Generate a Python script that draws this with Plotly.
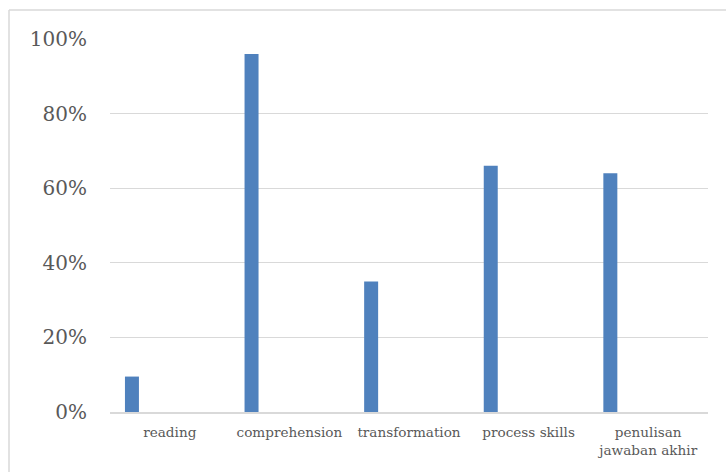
import plotly.graph_objects as go

categories = ["reading", "comprehension", "transformation", "process skills", "penulisan<br>jawaban akhir"]
values = [0.095, 0.96, 0.35, 0.66, 0.64]
y_ticks = [0, 0.2, 0.4, 0.6, 0.8, 1.0]
y_tick_labels = ["0%", "20%", "40%", "60%", "80%", "100%"]

fig = go.Figure()
fig.add_trace(go.Bar(
    x=categories, y=values,
    marker=dict(color="#4f81bd", line=dict(width=0)),
    width=0.117, offset=-0.375,
))

L, R, T, B = 110, 18, 39, 60
W, H = 726, 472
pw, ph = W - L - R, H - T - B

def px_to_paper_x(px):
    return (px - L) / pw

def px_to_paper_y(py):
    return (H - B - py) / ph

fig.update_layout(
    width=W, height=H,
    margin=dict(l=L, r=R, t=T, b=B),
    paper_bgcolor="white", plot_bgcolor="white",
    showlegend=False,
    font=dict(family="DejaVu Serif", color="#595959"),
    xaxis=dict(
        type="category", range=[-0.5, 4.5],
        showgrid=False, showline=True, linecolor="#d9d9d9", linewidth=2,
        ticks="", tickfont=dict(size=13.6, color="#595959"),
        ticklabelstandoff=7,
    ),
    yaxis=dict(
        range=[0, 1.0], tickvals=y_ticks, ticktext=y_tick_labels,
        showgrid=True, gridcolor="#d9d9d9", gridwidth=1,
        zeroline=False, showline=False, ticks="",
        tickfont=dict(size=20, color="#595959"),
        ticklabelstandoff=22,
    ),
    shapes=[
        dict(type="line", xref="paper", yref="paper",
             x0=px_to_paper_x(9), x1=px_to_paper_x(730),
             y0=px_to_paper_y(10), y1=px_to_paper_y(10),
             line=dict(color="#d9d9d9", width=1.5)),
        dict(type="line", xref="paper", yref="paper",
             x0=px_to_paper_x(9), x1=px_to_paper_x(9),
             y0=px_to_paper_y(10), y1=px_to_paper_y(480),
             line=dict(color="#d9d9d9", width=1.5)),
    ],
)

fig.write_html("out.html")
